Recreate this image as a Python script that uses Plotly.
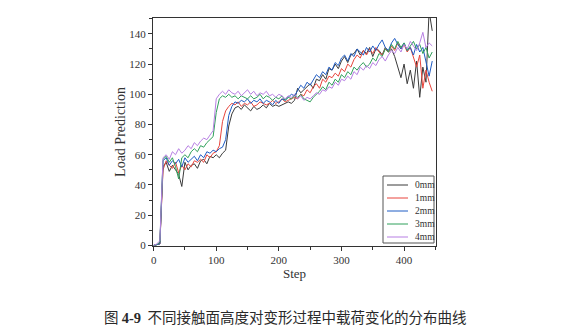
import plotly.graph_objects as go

steps = list(range(0, 450, 5))

load_0mm = [0, 0.5, 1, 52, 55, 49, 53, 50, 47, 39, 55, 50, 53, 54, 51, 56, 57, 54, 59, 58,
            60, 58, 61, 63, 79, 87, 91, 92, 90, 93, 91, 89, 92, 90, 91, 93, 91, 94, 92, 93,
            92, 93, 94, 95, 94, 96, 104, 101, 103, 105, 107, 104, 110, 109, 113, 110, 117, 116, 120, 117,
            122, 125, 121, 126, 127, 130, 126, 129, 127, 131, 125, 130, 129, 126, 131, 128, 130, 125, 118, 111,
            120, 107, 116, 104, 122, 98, 118, 108, 155, 142]
load_1mm = [0, 0.5, 1, 50, 56, 53, 51, 55, 48, 53, 50, 54, 52, 56, 55, 57, 55, 60, 58, 61,
            62, 66, 82, 89, 92, 94, 93, 95, 92, 94, 93, 95, 92, 93, 95, 94, 93, 94, 96, 94,
            95, 97, 95, 96, 97, 98, 97, 100, 99, 103, 101, 105, 107, 104, 110, 108, 112, 111, 114, 112,
            117, 115, 120, 118, 123, 126, 124, 129, 126, 130, 127, 131, 128, 126, 130, 128, 132, 129, 134, 130,
            133, 128, 131, 124, 118, 126, 104, 116, 108, 102]
load_2mm = [0, 0.5, 1, 56, 58, 53, 56, 54, 57, 52, 58, 55, 57, 59, 56, 60, 58, 62, 61, 63,
            62, 64, 65, 70, 86, 92, 95, 94, 96, 95, 97, 94, 96, 95, 97, 94, 96, 95, 93, 96,
            94, 97, 96, 98, 100, 99, 103, 106, 104, 108, 106, 110, 113, 111, 115, 113, 118, 116, 121, 119,
            124, 126, 122, 127, 125, 130, 128, 126, 131, 128, 132, 129, 133, 136, 131, 129, 134, 137, 133, 130,
            134, 129, 131, 126, 133, 128, 131, 122, 112, 122]
load_3mm = [0, 0.5, 2, 57, 59, 55, 58, 52, 44, 58, 60, 58, 62, 64, 62, 66, 65, 68, 70, 72,
            88, 97, 99, 98, 100, 98, 99, 97, 99, 98, 97, 99, 97, 98, 100, 97, 99, 98, 96, 98,
            97, 99, 96, 98, 97, 99, 98, 100, 97, 96, 95, 98, 100, 102, 105, 103, 108, 106, 110, 108,
            113, 111, 115, 113, 118, 116, 119, 121, 118, 120, 124, 122, 127, 125, 130, 128, 133, 130, 135, 131,
            134, 129, 132, 135, 130, 133, 127, 131, 124, 128]
load_4mm = [0, 1, 3, 58, 60, 57, 62, 60, 64, 61, 63, 66, 64, 68, 66, 69, 71, 70, 73, 76,
            97, 100, 102, 100, 103, 101, 100, 102, 99, 101, 103, 100, 102, 99, 101, 100, 102, 99, 100, 98,
            100, 99, 97, 99, 98, 100, 97, 99, 96, 98, 97, 99, 101, 100, 103, 102, 105, 104, 108, 106,
            110, 109, 112, 110, 115, 113, 118, 116, 119, 117, 121, 119, 123, 125, 122, 126, 129, 127, 131, 128,
            133, 130, 135, 132, 129, 134, 141, 131, 134, 132]

series_names = ["0mm", "1mm", "2mm", "3mm", "4mm"]
series_values = [load_0mm, load_1mm, load_2mm, load_3mm, load_4mm]
series_colors = ["#3a3a3a", "#e8453c", "#1f5cc4", "#2fa05a", "#b77fe3"]

x_ticks = [0, 100, 200, 300, 400]
y_ticks = [0, 20, 40, 60, 80, 100, 120, 140]

serif = "Liberation Serif, Times New Roman, serif"

# plot-area pixel geometry
L, R, T, B = 153, 436, 18, 246
W, H = 573, 330
pw, ph = R - L, B - T


def px(x):
    return (x - L) / pw


def py(y):
    return (B - y) / ph


fig = go.Figure()
for name, vals, col in zip(series_names, series_values, series_colors):
    fig.add_trace(go.Scatter(x=steps, y=vals, mode="lines", name=name,
                             line=dict(color=col, width=1), showlegend=False))

axis_common = dict(showline=True, linecolor="#333333", linewidth=1.3, mirror=True,
                   ticks="outside", ticklen=4, tickwidth=1, tickcolor="#333333",
                   showgrid=False, zeroline=False,
                   tickfont=dict(family=serif, size=11, color="#333333"))

shapes = []
annotations = []
# compact legend box as in the reference
shapes.append(dict(type="rect", xref="paper", yref="paper",
                   x0=px(383), x1=px(434), y0=py(243), y1=py(176),
                   line=dict(color="#555555", width=1), fillcolor="white", layer="above"))
for i, (name, col) in enumerate(zip(series_names, series_colors)):
    yy = 185 + 13 * i
    shapes.append(dict(type="line", xref="paper", yref="paper",
                       x0=px(387), x1=px(408), y0=py(yy), y1=py(yy),
                       line=dict(color=col, width=1), layer="above"))
    annotations.append(dict(text=name, x=px(412.5), y=py(yy), xref="paper", yref="paper",
                            xanchor="left", yanchor="middle", showarrow=False,
                            font=dict(family=serif, size=9.5, color="#333333")))

annotations.append(dict(
    text='图\u00a0<span style="font-family:Liberation Serif;font-weight:bold">4-9</span>\u00a0\u00a0不同接触面高度对变形过程中载荷变化的分布曲线',
    x=px(285), y=py(316), xref="paper", yref="paper", xanchor="center", yanchor="middle",
    showarrow=False, font=dict(family="Noto Sans CJK SC", size=14.5, color="#2a2a2a")))

fig.update_layout(
    width=W, height=H,
    margin=dict(l=L, r=W - R, t=T, b=H - B),
    paper_bgcolor="white", plot_bgcolor="white",
    showlegend=False,
    xaxis=dict(range=[-1, 451], tickvals=x_ticks,
               title=dict(text="Step", font=dict(family=serif, size=13, color="#333333"), standoff=3),
               minor=dict(ticks="outside", ticklen=2.5, tickwidth=1, tickcolor="#333333", dtick=50, tick0=0),
               **axis_common),
    yaxis=dict(range=[-0.4, 150.5], tickvals=y_ticks,
               title=dict(text="Load Prediction", font=dict(family=serif, size=14, color="#333333"), standoff=0),
               minor=dict(ticks="outside", ticklen=2.5, tickwidth=1, tickcolor="#333333", dtick=10, tick0=0),
               **axis_common),
    shapes=shapes,
    annotations=annotations,
)

fig.write_html("out.html")
